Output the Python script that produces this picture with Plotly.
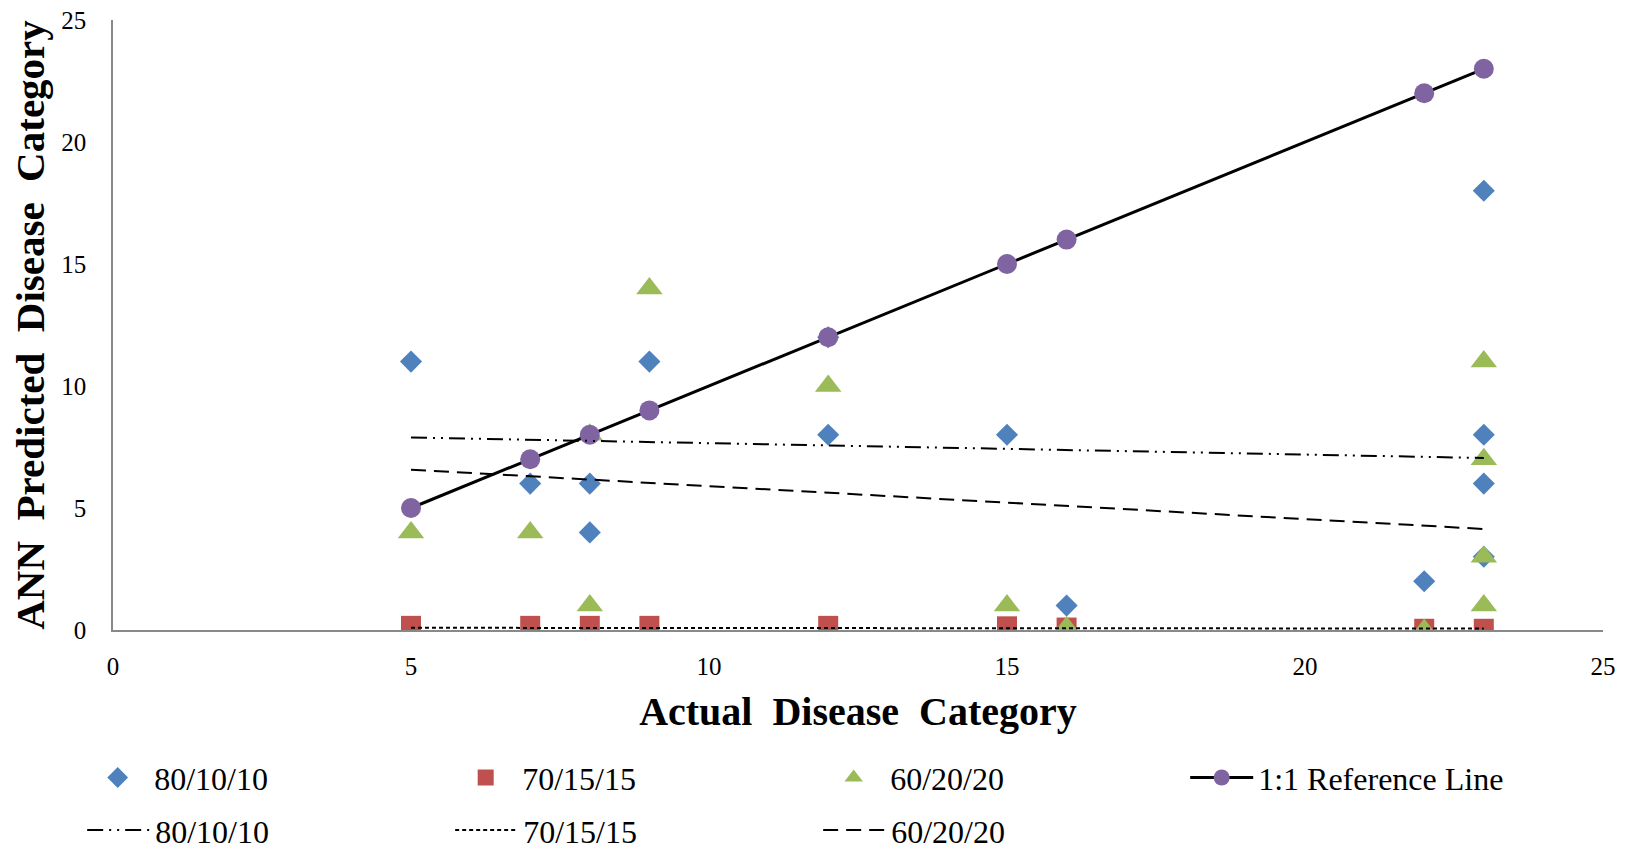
import plotly.graph_objects as go

# ---- data ----
x_80 = [5, 7, 8, 8, 9, 12, 12, 15, 16, 22, 23, 23, 23, 23]
y_80 = [11, 6, 6, 4, 11, 12, 8, 8, 1, 2, 18, 8, 6, 3]

x_70 = [5, 7, 8, 9, 12, 15, 16, 22, 23]
y_70 = [0.17, 0.17, 0.17, 0.17, 0.17, 0.15, 0.1, 0.05, 0.05]

x_60 = [5, 7, 8, 8, 9, 12, 15, 16, 22, 23, 23, 23, 23]
y_60 = [4, 4, 8, 1, 14, 10, 1, 0.1, 0, 11, 7, 3, 1]

x_ref = [5, 7, 8, 9, 12, 15, 16, 22, 23]
y_ref = [5, 7, 8, 9, 12, 15, 16, 22, 23]

# trendline end points
trend_x = [5, 23]
trend_80 = [7.89, 7.05]
trend_70 = [0.09, 0.06]
trend_60 = [6.57, 4.14]

ticks = [0, 5, 10, 15, 20, 25]

FONT = "Liberation Serif, Times New Roman, serif"
BLUE, RED, GREEN, PURPLE = "#4F81BD", "#C0504D", "#9BBB59", "#8064A2"

fig = go.Figure()

fig.add_trace(go.Scatter(x=x_80, y=y_80, mode="markers", name="80/10/10",
                         marker=dict(symbol="diamond", size=17, color=BLUE), legend="legend"))
fig.add_trace(go.Scatter(x=x_70, y=y_70, mode="markers", name="70/15/15",
                         marker=dict(symbol="square", size=20, color=RED), legend="legend"))
fig.add_trace(go.Scatter(x=x_60, y=y_60, mode="markers", name="60/20/20",
                         marker=dict(symbol="triangle-up", size=23, color=GREEN), legend="legend"))
fig.add_trace(go.Scatter(x=x_ref, y=y_ref, mode="lines+markers", name="1:1 Reference Line",
                         line=dict(color="black", width=3),
                         marker=dict(symbol="circle", size=20, color=PURPLE), legend="legend"))

fig.add_trace(go.Scatter(x=trend_x, y=trend_80, mode="lines", name="80/10/10",
                         line=dict(color="black", width=2, dash="16px,6px,2px,6px,2px,6px"),
                         legend="legend2"))
fig.add_trace(go.Scatter(x=trend_x, y=trend_70, mode="lines", name="70/15/15",
                         line=dict(color="black", width=2, dash="4px,3px"),
                         legend="legend2"))
fig.add_trace(go.Scatter(x=trend_x, y=trend_60, mode="lines", name="60/20/20",
                         line=dict(color="black", width=2, dash="15px,8px"),
                         legend="legend2"))

axis_common = dict(
    range=[0, 25], tickvals=ticks, ticktext=[str(t) for t in ticks],
    showgrid=False, zeroline=False, showline=True, linecolor="#898989", linewidth=1.5,
    ticks="", tickfont=dict(family=FONT, size=25, color="black"), automargin=False,
)

legend_common = dict(orientation="h", xref="container", yref="container",
                     xanchor="left", yanchor="middle",
                     entrywidth=290, entrywidthmode="pixels", itemwidth=63,
                     font=dict(family=FONT, size=32, color="black"),
                     bgcolor="rgba(0,0,0,0)")

fig.update_layout(
    width=1627, height=849,
    margin=dict(l=113, r=24, t=20, b=219, autoexpand=False),
    paper_bgcolor="white", plot_bgcolor="white",
    font=dict(family=FONT, color="black"),
    xaxis=dict(**axis_common, ticklabelstandoff=13,
               title=dict(text="<b>Actual\u00a0 Disease\u00a0 Category</b>",
                          font=dict(family=FONT, size=40, color="black"), standoff=18)),
    yaxis=dict(**axis_common, ticklabelstandoff=20,
               title=dict(text="<b>ANN\u00a0 Predicted\u00a0 Disease\u00a0 Category</b>",
                          font=dict(family=FONT, size=41, color="black"), standoff=4)),
    showlegend=True,
    legend=dict(**legend_common, x=0.0499, y=0.084),
    legend2=dict(**legend_common, x=0.0505, y=0.022),
)

fig.write_html("out.html")
